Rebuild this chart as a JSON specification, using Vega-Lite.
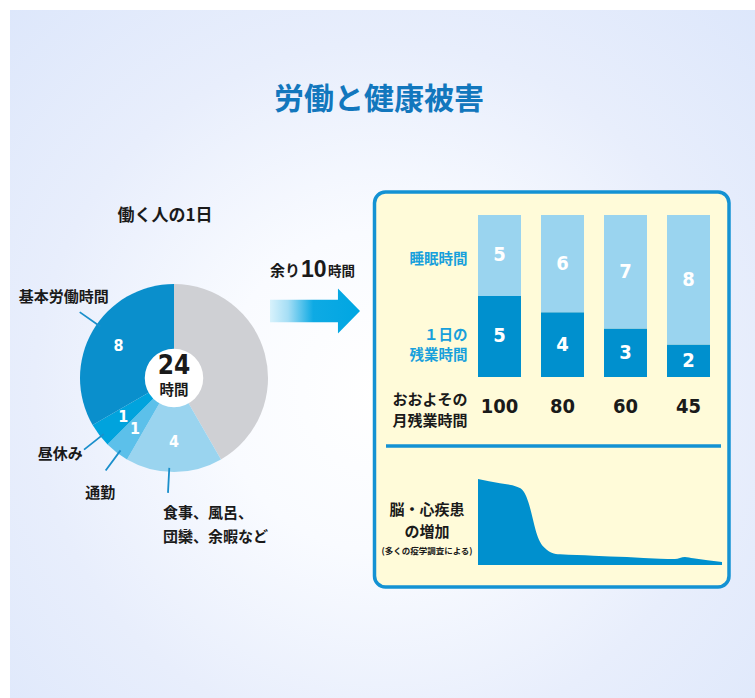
{
  "$schema": "https://vega.github.io/schema/vega-lite/v6.json",
  "width": 755,
  "height": 698,
  "autosize": {"type": "fit", "contains": "padding"},
  "padding": {"left": 10, "top": 10, "right": 0, "bottom": 0},
  "background": "#ffffff",
  "config": {
    "view": {"stroke": null},
    "axis": {"disable": true},
    "legend": {"disable": true},
    "text": {"font": "Noto Sans CJK JP", "fontWeight": "bold", "color": "#1a1a1a", "baseline": "middle"}
  },
  "datasets": {
    "donut": [
      {"part": "余り", "hours": 10, "seq": 1},
      {"part": "食事", "hours": 4, "seq": 2},
      {"part": "通勤", "hours": 1, "seq": 3},
      {"part": "昼休み", "hours": 1, "seq": 4},
      {"part": "基本労働時間", "hours": 8, "seq": 5}
    ],
    "callouts": [
      {"part": "基本労働時間", "line_at": 20.33, "label_at": 20.43},
      {"part": "昼休み", "line_at": 15.43, "label_at": 15.74},
      {"part": "通勤", "line_at": 14.43, "label_at": 14.17},
      {"part": "食事", "line_at": 12.2, "label_at": 12.31}
    ],
    "bars": [
      {"month": "100", "kind": "残業", "hours": 5},
      {"month": "100", "kind": "睡眠", "hours": 5},
      {"month": "80", "kind": "残業", "hours": 4},
      {"month": "80", "kind": "睡眠", "hours": 6},
      {"month": "60", "kind": "残業", "hours": 3},
      {"month": "60", "kind": "睡眠", "hours": 7},
      {"month": "45", "kind": "残業", "hours": 2},
      {"month": "45", "kind": "睡眠", "hours": 8}
    ],
    "risk": [
      {"d": 0, "v": 100},
      {"d": 9.0, "v": 95.0},
      {"d": 15.9, "v": 91.1},
      {"d": 17.9, "v": 88.0},
      {"d": 19.5, "v": 81.4},
      {"d": 21.0, "v": 69.8},
      {"d": 22.4, "v": 54.3},
      {"d": 23.8, "v": 38.8},
      {"d": 25.4, "v": 27.1},
      {"d": 27.5, "v": 19.4},
      {"d": 30.2, "v": 14.3},
      {"d": 33.6, "v": 12.4},
      {"d": 47.3, "v": 10.9},
      {"d": 61.0, "v": 9.3},
      {"d": 74.6, "v": 7.4},
      {"d": 80.7, "v": 7.0},
      {"d": 84.8, "v": 9.3},
      {"d": 88.2, "v": 7.8},
      {"d": 100, "v": 3.5}
    ]
  },
  "resolve": {"scale": {"x": "independent", "y": "independent", "color": "independent", "theta": "independent"}},
  "layer": [
    {
      "data": {"values": [{}]},
      "mark": {
        "type": "rect",
        "fill": {
          "gradient": "radial",
          "x1": 0.5, "y1": 0.55, "r1": 0,
          "x2": 0.5, "y2": 0.55, "r2": 0.72,
          "stops": [
            {"offset": 0, "color": "#ffffff"},
            {"offset": 0.3, "color": "#f9fbff"},
            {"offset": 0.65, "color": "#e8eefc"},
            {"offset": 1, "color": "#dde7fb"}
          ]
        }
      },
      "encoding": {}
    },
    {
      "data": {"name": "donut"},
      "layer": [
        {
          "data": {"values": [{}]},
          "mark": {"type": "rect", "fill": "#fffbd9", "stroke": "#1492d3", "strokeWidth": 3.5, "cornerRadius": 11},
          "encoding": {
            "x": {"datum": 374.5, "type": "quantitative", "scale": {"domain": [10, 755], "nice": false, "zero": false}},
            "x2": {"datum": 729},
            "y": {"datum": 192, "type": "quantitative", "scale": {"domain": [10, 698], "nice": false, "zero": false, "reverse": true}},
            "y2": {"datum": 587}
          }
        },
        {
          "data": {"values": [{}]},
          "mark": {"type": "rule", "stroke": "#1492d3", "strokeWidth": 3.5},
          "encoding": {
            "x": {"datum": 386, "type": "quantitative", "scale": {"domain": [10, 755], "nice": false, "zero": false}},
            "x2": {"datum": 721},
            "y": {"datum": 446, "type": "quantitative", "scale": {"domain": [10, 698], "nice": false, "zero": false, "reverse": true}}
          }
        },
        {
          "data": {"values": [{}]},
          "mark": {
            "type": "point",
            "shape": "M -1 -0.25 L 0.51 -0.25 L 0.51 -0.5 L 1 0 L 0.51 0.5 L 0.51 0.25 L -1 0.25 Z",
            "size": 8100,
            "filled": true,
            "opacity": 1,
            "strokeWidth": 0,
            "fill": {
              "gradient": "linear",
              "x1": 0, "y1": 0, "x2": 1, "y2": 0,
              "stops": [
                {"offset": 0, "color": "#d8f2fc"},
                {"offset": 0.2, "color": "#a6def5"},
                {"offset": 0.48, "color": "#0eaae4"},
                {"offset": 1, "color": "#00a6e2"}
              ]
            }
          },
          "encoding": {
            "x": {"datum": 315, "type": "quantitative", "scale": {"domain": [10, 755], "nice": false, "zero": false}},
            "y": {"datum": 311, "type": "quantitative", "scale": {"domain": [10, 698], "nice": false, "zero": false, "reverse": true}}
          }
        },
        {
          "data": {"values": [{}]},
          "mark": {"type": "text", "text": "労働と健康被害", "fontSize": 30, "color": "#1277bd", "align": "center"},
          "encoding": {
            "x": {"datum": 379, "type": "quantitative", "scale": {"domain": [10, 755], "nice": false, "zero": false}},
            "y": {"datum": 100, "type": "quantitative", "scale": {"domain": [10, 698], "nice": false, "zero": false, "reverse": true}}
          }
        },
        {
          "data": {"values": [{}]},
          "mark": {"type": "text", "text": "働く人の1日", "fontSize": 17, "align": "center"},
          "encoding": {
            "x": {"datum": 165, "type": "quantitative", "scale": {"domain": [10, 755], "nice": false, "zero": false}},
            "y": {"datum": 215.5, "type": "quantitative", "scale": {"domain": [10, 698], "nice": false, "zero": false, "reverse": true}}
          }
        },
        {
          "data": {"values": [{}]},
          "mark": {"type": "text", "text": "余り", "fontSize": 15, "align": "left"},
          "encoding": {
            "x": {"datum": 270, "type": "quantitative", "scale": {"domain": [10, 755], "nice": false, "zero": false}},
            "y": {"datum": 271, "type": "quantitative", "scale": {"domain": [10, 698], "nice": false, "zero": false, "reverse": true}}
          }
        },
        {
          "data": {"values": [{}]},
          "mark": {"type": "text", "text": "10", "fontSize": 23, "align": "left", "font": "Liberation Sans"},
          "encoding": {
            "x": {"datum": 301, "type": "quantitative", "scale": {"domain": [10, 755], "nice": false, "zero": false}},
            "y": {"datum": 270, "type": "quantitative", "scale": {"domain": [10, 698], "nice": false, "zero": false, "reverse": true}}
          }
        },
        {
          "data": {"values": [{}]},
          "mark": {"type": "text", "text": "時間", "fontSize": 13.5, "align": "left"},
          "encoding": {
            "x": {"datum": 328, "type": "quantitative", "scale": {"domain": [10, 755], "nice": false, "zero": false}},
            "y": {"datum": 272, "type": "quantitative", "scale": {"domain": [10, 698], "nice": false, "zero": false, "reverse": true}}
          }
        },
        {
          "mark": {"type": "arc", "outerRadius": 94, "innerRadius": 0, "strokeWidth": 0},
          "encoding": {
            "x": {"datum": 174, "type": "quantitative", "scale": {"domain": [10, 755], "nice": false, "zero": false}},
            "y": {"datum": 378, "type": "quantitative", "scale": {"domain": [10, 698], "nice": false, "zero": false, "reverse": true}},
            "theta": {"field": "hours", "type": "quantitative", "stack": true, "scale": {"domain": [0, 24]}},
            "order": {"field": "seq", "type": "quantitative"},
            "color": {
              "field": "part", "type": "nominal",
              "scale": {
                "domain": ["余り", "食事", "通勤", "昼休み", "基本労働時間"],
                "range": ["#cfd0d4", "#9ad4ef", "#5cc0ea", "#00a3dd", "#0a8fcc"]
              }
            }
          }
        },
        {
          "data": {"name": "callouts"},
          "mark": {"type": "arc", "radius": 115, "radius2": 90, "stroke": "#1a8fcb", "strokeWidth": 1.8, "fillOpacity": 0, "fill": "#1a8fcb"},
          "encoding": {
            "x": {"datum": 174, "type": "quantitative", "scale": {"domain": [10, 755], "nice": false, "zero": false}},
            "y": {"datum": 378, "type": "quantitative", "scale": {"domain": [10, 698], "nice": false, "zero": false, "reverse": true}},
            "theta": {"field": "line_at", "type": "quantitative", "stack": null, "scale": {"domain": [0, 24]}},
            "theta2": {"field": "line_at"}
          }
        },
        {
          "data": {"values": [{}]},
          "mark": {"type": "point", "shape": "circle", "size": 3421, "filled": true, "fill": "#ffffff", "opacity": 1, "strokeWidth": 0},
          "encoding": {
            "x": {"datum": 174, "type": "quantitative", "scale": {"domain": [10, 755], "nice": false, "zero": false}},
            "y": {"datum": 378, "type": "quantitative", "scale": {"domain": [10, 698], "nice": false, "zero": false, "reverse": true}}
          }
        },
        {
          "data": {"values": [{}]},
          "mark": {"type": "text", "text": "24", "fontSize": 26, "align": "center", "font": "Liberation Sans Narrow, DejaVu Sans Condensed, sans-serif"},
          "encoding": {
            "x": {"datum": 174, "type": "quantitative", "scale": {"domain": [10, 755], "nice": false, "zero": false}},
            "y": {"datum": 366, "type": "quantitative", "scale": {"domain": [10, 698], "nice": false, "zero": false, "reverse": true}}
          }
        },
        {
          "data": {"values": [{}]},
          "mark": {"type": "text", "text": "時間", "fontSize": 14.5, "align": "center"},
          "encoding": {
            "x": {"datum": 174, "type": "quantitative", "scale": {"domain": [10, 755], "nice": false, "zero": false}},
            "y": {"datum": 391, "type": "quantitative", "scale": {"domain": [10, 698], "nice": false, "zero": false, "reverse": true}}
          }
        },
        {
          "mark": {"type": "text", "radius": 64, "color": "#ffffff", "fontSize": 16, "align": "center", "font": "Liberation Sans Narrow, DejaVu Sans Condensed, sans-serif"},
          "encoding": {
            "x": {"datum": 174, "type": "quantitative", "scale": {"domain": [10, 755], "nice": false, "zero": false}},
            "y": {"datum": 378, "type": "quantitative", "scale": {"domain": [10, 698], "nice": false, "zero": false, "reverse": true}},
            "theta": {"field": "hours", "type": "quantitative", "stack": true, "scale": {"domain": [0, 24]}},
            "order": {"field": "seq", "type": "quantitative"},
            "text": {"field": "hours", "type": "quantitative", "condition": {"test": "datum.part === '余り'", "value": ""}}
          }
        },
        {
          "data": {"name": "callouts"},
          "transform": [{"filter": "datum.part !== '食事'"}],
          "mark": {"type": "text", "radius": 137, "fontSize": 15, "align": "center"},
          "encoding": {
            "x": {"datum": 174, "type": "quantitative", "scale": {"domain": [10, 755], "nice": false, "zero": false}},
            "y": {"datum": 378, "type": "quantitative", "scale": {"domain": [10, 698], "nice": false, "zero": false, "reverse": true}},
            "theta": {"field": "label_at", "type": "quantitative", "stack": null, "scale": {"domain": [0, 24]}},
            "text": {"field": "part", "type": "nominal"}
          }
        },
        {
          "data": {"name": "callouts"},
          "transform": [{"filter": "datum.part === '食事'"}],
          "mark": {"type": "text", "text": ["食事、風呂、", "団欒、余暇など"], "lineHeight": 24, "radius": 135.5, "fontSize": 15, "align": "left"},
          "encoding": {
            "x": {"datum": 174, "type": "quantitative", "scale": {"domain": [10, 755], "nice": false, "zero": false}},
            "y": {"datum": 378, "type": "quantitative", "scale": {"domain": [10, 698], "nice": false, "zero": false, "reverse": true}},
            "theta": {"field": "label_at", "type": "quantitative", "stack": null, "scale": {"domain": [0, 24]}}
          }
        }
      ]
    },
    {
      "data": {"name": "bars"},
      "layer": [
        {
          "mark": {"type": "bar"},
          "encoding": {
            "x": {"field": "month", "type": "nominal", "sort": null, "scale": {"domain": ["100", "80", "60", "45"], "range": [458, 710], "paddingInner": 0.3175, "paddingOuter": 0.15875}},
            "y": {"field": "hours", "type": "quantitative", "stack": "zero", "scale": {"domain": [-19.815, 22.654], "nice": false, "zero": false}},
            "order": {"field": "kind", "sort": "ascending"},
            "color": {"field": "kind", "type": "nominal", "scale": {"domain": ["残業", "睡眠"], "range": ["#0090ce", "#9ad4ef"]}}
          }
        },
        {
          "mark": {"type": "text", "color": "#ffffff", "fontSize": 20, "align": "center", "font": "Liberation Sans Narrow, DejaVu Sans Condensed, sans-serif"},
          "encoding": {
            "x": {"field": "month", "type": "nominal", "sort": null, "scale": {"domain": ["100", "80", "60", "45"], "range": [458, 710], "paddingInner": 0.3175, "paddingOuter": 0.15875}},
            "y": {"field": "hours", "type": "quantitative", "stack": "zero", "bandPosition": 0.5, "scale": {"domain": [-19.815, 22.654], "nice": false, "zero": false}},
            "order": {"field": "kind", "sort": "ascending"},
            "text": {"field": "hours", "type": "quantitative"}
          }
        },
        {
          "transform": [{"filter": "datum.kind === '残業'"}],
          "mark": {"type": "text", "fontSize": 20, "align": "center", "font": "Liberation Sans Narrow, DejaVu Sans Condensed, sans-serif"},
          "encoding": {
            "x": {"field": "month", "type": "nominal", "sort": null, "scale": {"domain": ["100", "80", "60", "45"], "range": [458, 710], "paddingInner": 0.3175, "paddingOuter": 0.15875}},
            "y": {"datum": -1.88, "type": "quantitative", "scale": {"domain": [-19.815, 22.654], "nice": false, "zero": false}},
            "text": {"field": "month", "type": "nominal"}
          }
        },
        {
          "data": {"values": [{}]},
          "mark": {"type": "text", "text": "睡眠時間", "fontSize": 14.5, "align": "right", "dx": -32, "color": "#18a0dc"},
          "encoding": {
            "x": {"datum": "100", "type": "nominal", "scale": {"domain": ["100", "80", "60", "45"], "range": [458, 710], "paddingInner": 0.3175, "paddingOuter": 0.15875}},
            "y": {"datum": 7.22, "type": "quantitative", "scale": {"domain": [-19.815, 22.654], "nice": false, "zero": false}}
          }
        },
        {
          "data": {"values": [{}]},
          "mark": {"type": "text", "text": ["１日の", "残業時間"], "lineHeight": 20, "fontSize": 14.5, "align": "right", "dx": -32, "color": "#18a0dc"},
          "encoding": {
            "x": {"datum": "100", "type": "nominal", "scale": {"domain": ["100", "80", "60", "45"], "range": [458, 710], "paddingInner": 0.3175, "paddingOuter": 0.15875}},
            "y": {"datum": 2.5, "type": "quantitative", "scale": {"domain": [-19.815, 22.654], "nice": false, "zero": false}}
          }
        },
        {
          "data": {"values": [{}]},
          "mark": {"type": "text", "text": ["おおよその", "月残業時間"], "lineHeight": 21, "fontSize": 15, "align": "right", "dx": -32},
          "encoding": {
            "x": {"datum": "100", "type": "nominal", "scale": {"domain": ["100", "80", "60", "45"], "range": [458, 710], "paddingInner": 0.3175, "paddingOuter": 0.15875}},
            "y": {"datum": -1.39, "type": "quantitative", "scale": {"domain": [-19.815, 22.654], "nice": false, "zero": false}}
          }
        }
      ]
    },
    {
      "data": {"name": "risk"},
      "layer": [
        {
          "mark": {"type": "area", "interpolate": "monotone", "color": "#0090ce", "opacity": 1},
          "encoding": {
            "x": {"field": "d", "type": "quantitative", "scale": {"domain": [-191.8, 113.52], "nice": false, "zero": false}},
            "y": {"field": "v", "type": "quantitative", "scale": {"domain": [-154.65, 645.35], "nice": false, "zero": false}}
          }
        },
        {
          "data": {"values": [{}]},
          "mark": {"type": "text", "text": "脳・心疾患", "fontSize": 15, "align": "center"},
          "encoding": {
            "x": {"datum": -20.9, "type": "quantitative", "scale": {"domain": [-191.8, 113.52], "nice": false, "zero": false}},
            "y": {"datum": 64, "type": "quantitative", "scale": {"domain": [-154.65, 645.35], "nice": false, "zero": false}}
          }
        },
        {
          "data": {"values": [{}]},
          "mark": {"type": "text", "text": "の増加", "fontSize": 15, "align": "center"},
          "encoding": {
            "x": {"datum": -20.9, "type": "quantitative", "scale": {"domain": [-191.8, 113.52], "nice": false, "zero": false}},
            "y": {"datum": 38.4, "type": "quantitative", "scale": {"domain": [-154.65, 645.35], "nice": false, "zero": false}}
          }
        },
        {
          "data": {"values": [{}]},
          "mark": {"type": "text", "text": "(多くの疫学調査による)", "fontSize": 8.5, "align": "center"},
          "encoding": {
            "x": {"datum": -20.9, "type": "quantitative", "scale": {"domain": [-191.8, 113.52], "nice": false, "zero": false}},
            "y": {"datum": 16.3, "type": "quantitative", "scale": {"domain": [-154.65, 645.35], "nice": false, "zero": false}}
          }
        }
      ]
    }
  ]
}
